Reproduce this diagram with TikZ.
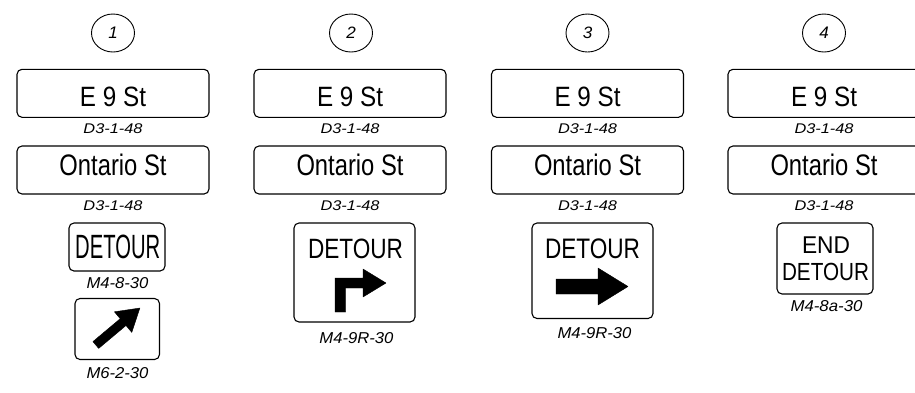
\documentclass[tikz,border=0pt]{standalone}
\usepackage{fontspec}
\usepackage{graphicx}
\setsansfont{Liberation Sans}
\newcommand{\fitt}[3]{\resizebox{#1pt}{#2pt}{\sffamily #3}}
\tikzset{
  signbox/.style={draw=black, line width=1.1pt, rounded corners=5pt, fill=white, inner sep=0pt},
  txt/.style={inner sep=0pt, anchor=center},
  arrowfill/.style={fill=black, draw=black, line width=0.4pt, line join=round}
}
\begin{document}
\begin{tikzpicture}[x=1pt, y=-1pt]
\useasboundingbox (0,0) rectangle (915,392);
\clip (0,0) rectangle (915,392);
% circles
\foreach \c/\n in {113/1, 351/2, 587.5/3, 824/4} {
  \draw[line width=0.9pt] (\c,33) ellipse [x radius=21.5pt, y radius=19pt];
  \node[txt] (num\n) at (\c,33) {\fitt{9.5}{11.5}{\itshape \n}};
}
% street name signs
\foreach \c/\k in {113/1, 350/2, 587.5/3, 824/4} {
  \node[signbox, minimum width=192pt, minimum height=48pt] (e9\k) at (\c,93.3) {};
  \node[txt] (e9t\k) at (\c,96.7) {\fitt{66}{19.5}{E 9 St}};
  \node[txt] (e9l\k) at (\c,128.7) {\fitt{59}{9.8}{\itshape D3-1-48}};
  \node[signbox, minimum width=192pt, minimum height=48pt] (on\k) at (\c,170) {};
  \node[txt] (ont\k) at (\c,165) {\fitt{107}{21.5}{Ontario St}};
  \node[txt] (onl\k) at (\c,205.7) {\fitt{59}{9.8}{\itshape D3-1-48}};
}
% column 1
\node[signbox, minimum width=96pt, minimum height=48pt] (d1) at (117,247) {};
\node[txt] (d1t) at (117.7,246.7) {\fitt{85}{23.5}{DETOUR}};
\node[txt] (d1l) at (117.5,283) {\fitt{62}{11}{\itshape M4-8-30}};
\node[signbox, minimum width=84.5pt, minimum height=61pt] (a1) at (117.25,329) {};
\fill[arrowfill] (92.9,341.6) -- (120.2,318.7) -- (114.4,311.8) -- (139.9,308.0) -- (131.8,332.4) -- (126.0,325.5) -- (98.7,348.4) -- cycle;
\node[txt] (a1l) at (117.5,373.5) {\fitt{62}{11}{\itshape M6-2-30}};
% column 2
\node[signbox, minimum width=121pt, minimum height=99pt] (d2) at (354.5,272.5) {};
\node[txt] (d2t) at (355.5,249) {\fitt{95}{19.5}{DETOUR}};
\fill[arrowfill] (335,312) -- (335,278) -- (363,278) -- (363,269) -- (386,283) -- (363,297) -- (363,288) -- (345.7,288) -- (345.7,312) -- cycle;
\node[txt] (d2l) at (356.5,338.5) {\fitt{74}{11}{\itshape M4-9R-30}};
% column 3
\node[signbox, minimum width=121pt, minimum height=95.5pt] (d3) at (592.5,270.75) {};
\node[txt] (d3t) at (592.5,249) {\fitt{95}{19.7}{DETOUR}};
\fill[arrowfill] (556,279) -- (598,279) -- (598,268) -- (628,286.5) -- (598,305) -- (598,294) -- (556,294) -- cycle;
\node[txt] (d3l) at (594.5,333) {\fitt{74}{11}{\itshape M4-9R-30}};
% column 4
\node[signbox, minimum width=96pt, minimum height=71pt] (d4) at (825,258.5) {};
\node[txt] (d4a) at (826,245) {\fitt{48}{16.7}{END}};
\node[txt] (d4b) at (825.5,271.7) {\fitt{87}{17.3}{DETOUR}};
\node[txt] (d4l) at (826.5,306.5) {\fitt{72}{11}{\itshape M4-8a-30}};
\end{tikzpicture}
\end{document}
